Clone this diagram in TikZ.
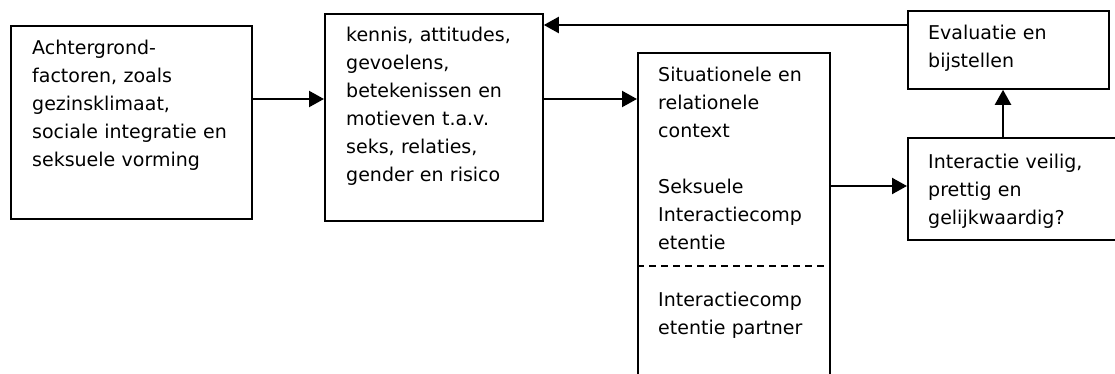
\documentclass[tikz,border=0pt]{standalone}
\usepackage{fontspec}
\setmainfont{DejaVu Sans}
\usetikzlibrary{arrows.meta}
\tikzset{
  boxshape/.style={draw=black, line width=1.8pt, rectangle, inner sep=0pt, anchor=north west},
  boxtext/.style={anchor=base west, inner sep=0pt, align=left, text width=#1,
    font=\fontsize{19}{28}\selectfont},
  arr/.style={line width=2.2pt, -{Triangle[length=15pt,width=16pt]}},
}
\begin{document}
\begin{tikzpicture}[x=1pt,y=-1pt]
\clip (0,0) rectangle (1115,374);
\fill[white] (0,0) rectangle (1115,374);
% boxes
\node[boxshape, minimum width=241pt, minimum height=193pt] (b1) at (10,25) {};
\node[boxshape, minimum width=218pt, minimum height=207pt] (b2) at (324,13) {};
\node[boxshape, minimum width=192pt, minimum height=340pt] (b3) at (637,52) {};
\node[boxshape, minimum width=201pt, minimum height=78pt] (b4) at (907,10) {};
\node[boxshape, minimum width=220pt, minimum height=102pt] (b5) at (907,137) {};
% texts
\node[boxtext=215pt] (t1) at (32,55) {Achtergrond-\\factoren, zoals\\gezinsklimaat,\\sociale integratie en\\seksuele vorming};
\node[boxtext=195pt] (t2) at (346,42) {kennis, attitudes,\\gevoelens,\\betekenissen en\\motieven t.a.v.\\seks, relaties,\\gender en risico};
\node[boxtext=170pt] (t3) at (658,82) {Situationele en\\relationele\\context\\[28pt]Seksuele\\Interactiecomp\\etentie};
\node[boxtext=170pt] (t3b) at (658,306) {Interactiecomp\\etentie partner};
\node[boxtext=175pt] (t4) at (928,40) {Evaluatie en\\bijstellen};
\node[boxtext=180pt] (t5) at (928,168) {Interactie veilig,\\prettig en\\gelijkwaardig?};
% dashed divider
\draw[line width=1.5pt, dash pattern=on 7pt off 5pt] (b3.west |- 0,266) -- (b3.east |- 0,266);
% connectors
\draw[arr] (b1.east |- 0,99) -- (b2.west |- 0,99);
\draw[arr] (b2.east |- 0,99) -- (b3.west |- 0,99);
\draw[arr] (b4.west |- 0,25) -- (b2.east |- 0,25);
\draw[arr] (b3.east |- 0,186) -- (b5.west |- 0,186);
\draw[arr] (b5.north -| 1003,0) -- (b4.south -| 1003,0);
\end{tikzpicture}
\end{document}
